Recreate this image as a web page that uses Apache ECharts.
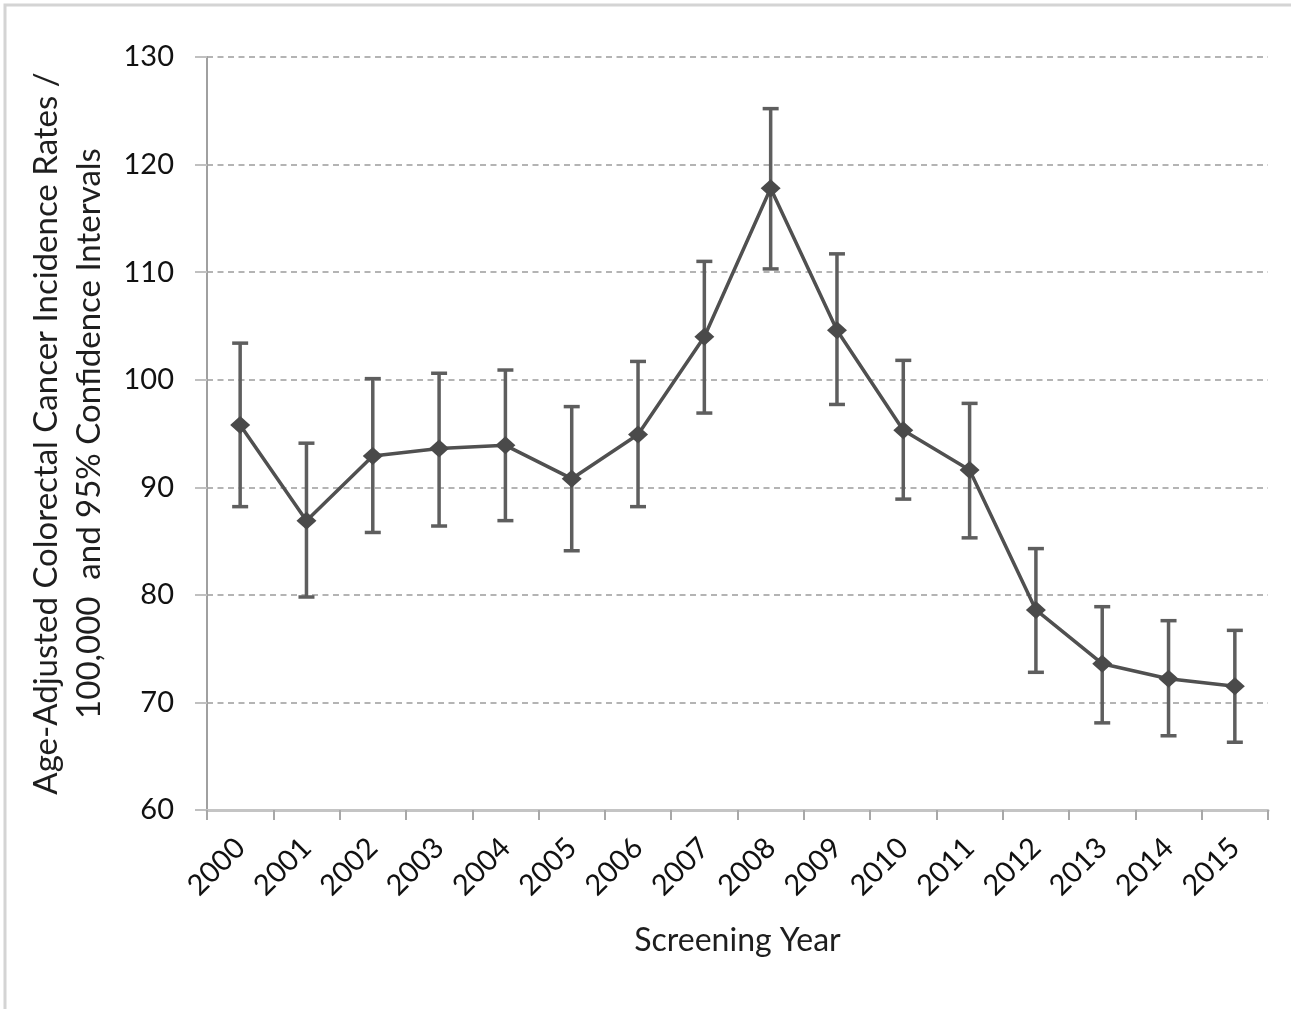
<!DOCTYPE html>
<html>
<head>
<meta charset="utf-8">
<script src="https://cdn.jsdelivr.net/npm/echarts@6/dist/echarts.min.js"></script>
<style>
html,body{margin:0;padding:0;background:#fff;}
#main{width:1291px;height:1009px;}
</style>
</head>
<body>
<div id="main"></div>
<script>
const years = ['2000','2001','2002','2003','2004','2005','2006','2007','2008','2009','2010','2011','2012','2013','2014','2015'];
const rate  = [95.8, 86.9, 92.9, 93.6, 93.9, 90.8, 94.9, 104.0, 117.8, 104.6, 95.3, 91.6, 78.6, 73.6, 72.2, 71.5];
const lower = [88.2, 79.8, 85.8, 86.4, 86.9, 84.1, 88.2, 96.9, 110.3, 97.7, 88.9, 85.3, 72.8, 68.1, 66.9, 66.3];
const upper = [103.4, 94.1, 100.1, 100.6, 100.9, 97.5, 101.7, 111.0, 125.2, 111.7, 101.8, 97.8, 84.3, 78.9, 77.6, 76.7];
const yTicks = {min: 60, max: 130, interval: 10};

const FONT = 'Lato, "Open Sans", sans-serif';
const chart = echarts.init(document.getElementById('main'), null, {renderer: 'canvas'});

const errData = years.map((y, i) => [i, lower[i], upper[i]]);

chart.setOption({
  animation: false,
  backgroundColor: '#fff',
  graphic: [{
    type: 'rect', silent: true, z: -10,
    shape: {x: 5, y: 5, width: 1320, height: 1040},
    style: {fill: null, stroke: '#d4d4d4', lineWidth: 3}
  }],
  grid: {left: 207, right: 23, top: 57, bottom: 199, containLabel: false, outerBoundsMode: 'none'},
  xAxis: {
    type: 'category',
    data: years,
    boundaryGap: true,
    name: 'Screening Year',
    nameLocation: 'middle',
    nameGap: 115,
    nameTextStyle: {fontFamily: FONT, fontSize: 32, color: '#1e1e1e'},
    axisLine: {lineStyle: {color: '#c4c4c4', width: 3}},
    axisTick: {show: true, alignWithLabel: false, length: 10, lineStyle: {color: '#a8a8a8', width: 2}},
    axisLabel: {rotate: 45, margin: 33, fontFamily: FONT, fontSize: 29, color: '#111', interval: 0},
    splitLine: {show: false}
  },
  yAxis: {
    type: 'value',
    min: yTicks.min, max: yTicks.max, interval: yTicks.interval,
    name: 'Age-Adjusted Colorectal Cancer Incidence Rates /\n100,000  and 95% Confidence Intervals',
    nameLocation: 'middle',
    nameRotate: 90,
    nameGap: 96,
    nameTextStyle: {fontFamily: FONT, fontSize: 33, color: '#1e1e1e', lineHeight: 43, align: 'center'},
    axisLine: {show: true, lineStyle: {color: '#a0a0a0', width: 2}},
    axisTick: {show: true, length: 12, lineStyle: {color: '#c0c0c0', width: 2}},
    axisLabel: {margin: 33, fontFamily: FONT, fontSize: 29, color: '#111'},
    splitLine: {show: true, lineStyle: {color: '#b4b4b4', width: 2, type: [6, 4.5]}}
  },
  series: [
    {
      type: 'custom',
      z: 1,
      data: errData,
      encode: {x: 0, y: [1, 2]},
      renderItem: function (params, api) {
        const xi = api.value(0);
        const lo = api.coord([xi, api.value(1)]);
        const hi = api.coord([xi, api.value(2)]);
        const half = 8;
        const st = {stroke: '#5e5e5e', lineWidth: 3.5};
        return {
          type: 'group',
          children: [
            {type: 'line', shape: {x1: lo[0], y1: lo[1], x2: hi[0], y2: hi[1]}, style: st},
            {type: 'line', shape: {x1: hi[0] - half, y1: hi[1], x2: hi[0] + half, y2: hi[1]}, style: st},
            {type: 'line', shape: {x1: lo[0] - half, y1: lo[1], x2: lo[0] + half, y2: lo[1]}, style: st}
          ]
        };
      }
    },
    {
      type: 'line',
      z: 3,
      data: rate,
      symbol: 'diamond',
      symbolSize: [20, 18],
      lineStyle: {color: '#505050', width: 3.5},
      itemStyle: {color: '#4a4a4a'}
    }
  ]
});
</script>
</body>
</html>
